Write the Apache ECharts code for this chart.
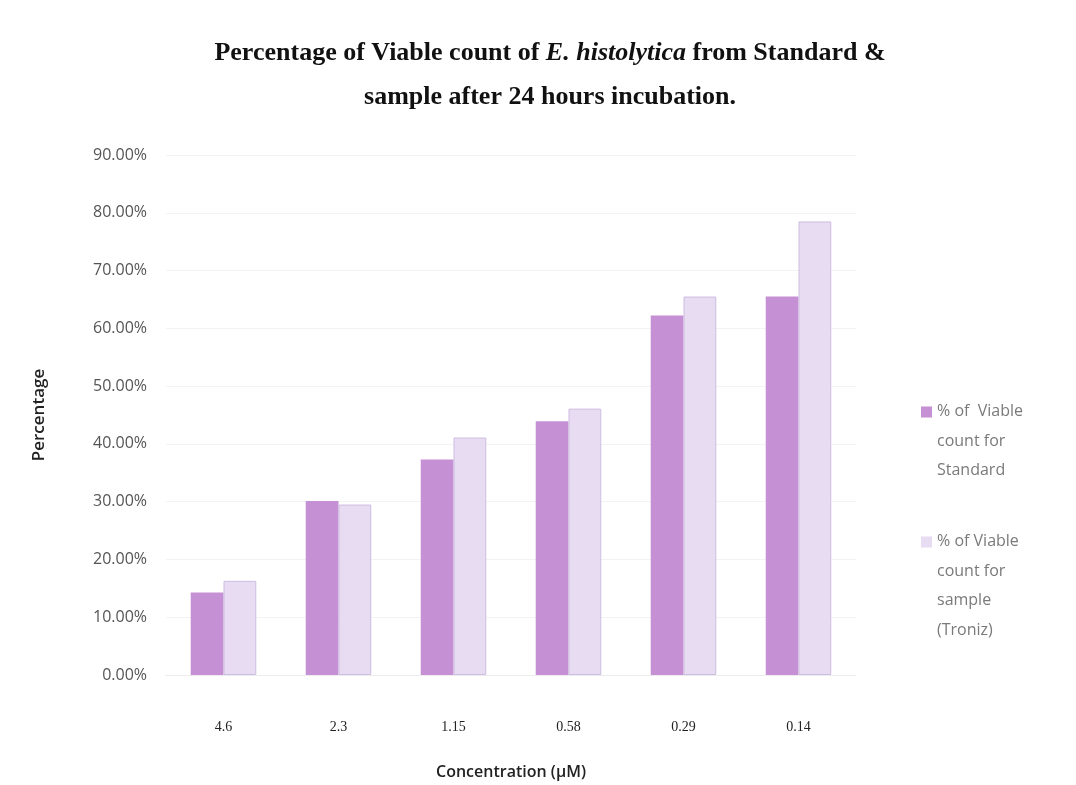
<!DOCTYPE html>
<html>
<head>
<meta charset="utf-8">
<script src="https://cdn.jsdelivr.net/npm/echarts@6/dist/echarts.min.js"></script>
<style>html,body{margin:0;padding:0;background:#fff;}#c{width:1076px;height:785px;}</style>
</head>
<body>
<div id="c"></div>
<script>
const categories = ['4.6', '2.3', '1.15', '0.58', '0.29', '0.14'];
const standardValues = [14.3, 30.1, 37.3, 43.9, 62.2, 65.5];
const sampleValues = [16.3, 29.5, 41.1, 46.1, 65.5, 78.5];
const seriesNames = ['% of  Viable count for Standard', '% of Viable count for sample (Troniz)'];
const legendLines = {
  '% of  Viable count for Standard': '% of  Viable\ncount for\nStandard\n ',
  '% of Viable count for sample (Troniz)': '% of Viable\ncount for\nsample\n(Troniz)'
};
const yMax = 90, yStep = 10;

const chart = echarts.init(document.getElementById('c'));
const iconPath = 'path://M0,8.4h10v10h-10Z M0,0h0.01v0.01Z M0,107h0.01v0.01Z';
chart.setOption({
  backgroundColor: '#fff',
  animation: false,
  title: {
    text: '{b|Percentage of Viable count of }{i|E. histolytica}{b| from Standard &}\n{b|sample after 24 hours incubation.}',
    left: 545, textAlign: 'center', top: 26,
    textStyle: {
      rich: {
        b: {fontFamily: 'Liberation Serif', fontWeight: 'bold', fontSize: 26, color: '#111', lineHeight: 44},
        i: {fontFamily: 'Liberation Serif', fontStyle: 'italic', fontSize: 26, color: '#111', lineHeight: 44}
      }
    }
  },
  grid: {left: 166, right: 220, top: 155, bottom: 100, containLabel: false},
  legend: {
    orient: 'vertical', left: 916, top: 392, itemGap: 12,
    itemWidth: 11, itemHeight: 118, icon: iconPath,
    itemStyle: {borderWidth: 0},
    formatter: n => legendLines[n],
    textStyle: {fontFamily: 'Open Sans', fontSize: 16, color: '#7a7a7a', lineHeight: 29.5},
    data: seriesNames
  },
  xAxis: {
    type: 'category', data: categories,
    name: 'Concentration (µM)', nameLocation: 'middle', nameGap: 89,
    nameTextStyle: {fontFamily: 'Open Sans', fontSize: 16, fontWeight: 600, color: '#222'},
    axisLine: {show: true, lineStyle: {color: '#ececec'}},
    axisTick: {show: false},
    axisLabel: {fontFamily: 'Liberation Serif', fontSize: 14, color: '#222', margin: 45}
  },
  yAxis: {
    type: 'value', min: 0, max: yMax, interval: yStep,
    name: 'Percentage', nameLocation: 'middle', nameGap: 118,
    nameTextStyle: {fontFamily: 'Open Sans', fontSize: 17, fontWeight: 600, color: '#222'},
    axisLine: {show: false}, axisTick: {show: false},
    splitLine: {lineStyle: {color: '#f3f3f3'}},
    axisLabel: {fontFamily: 'Open Sans', fontSize: 16, color: '#555', margin: 19,
      formatter: v => v.toFixed(2) + '%'}
  },
  series: [
    {name: seriesNames[0], type: 'bar', data: standardValues, barGap: '0%', barCategoryGap: '43%',
      itemStyle: {color: '#c690d4'}},
    {name: seriesNames[1], type: 'bar', data: sampleValues,
      itemStyle: {color: '#e8dcf3', borderColor: '#cdbde0', borderWidth: 1}}
  ]
});
</script>
</body>
</html>
